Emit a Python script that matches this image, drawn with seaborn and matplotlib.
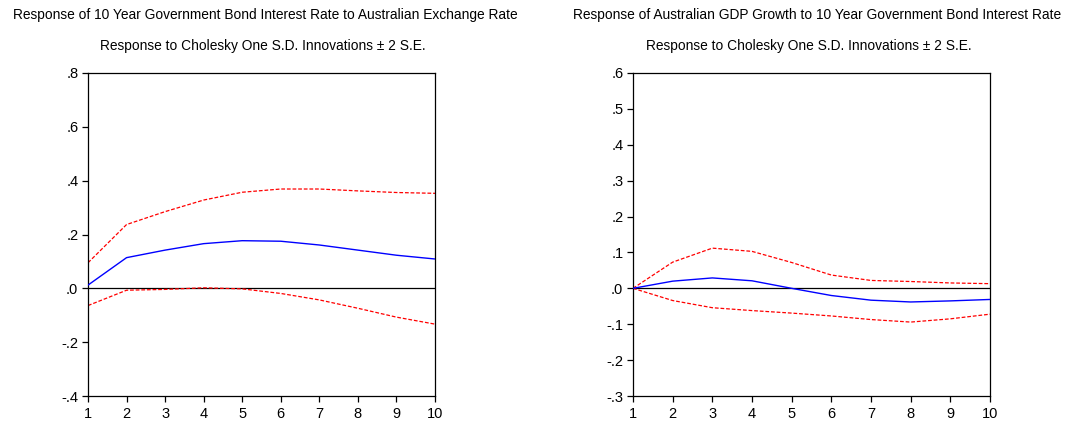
import matplotlib
matplotlib.use("Agg")
import matplotlib.pyplot as plt
import seaborn as sns
import pandas as pd
import numpy as np

periods = [1, 2, 3, 4, 5, 6, 7, 8, 9, 10]

# Left panel: response of bond rate to exchange rate
left_resp = [0.012, 0.114, 0.142, 0.166, 0.177, 0.175, 0.161, 0.142, 0.123, 0.109]
left_upper = [0.095, 0.237, 0.285, 0.328, 0.357, 0.369, 0.369, 0.362, 0.356, 0.353]
left_lower = [-0.064, -0.007, -0.004, 0.002, -0.002, -0.019, -0.043, -0.074, -0.107, -0.133]

# Right panel: response of GDP growth to bond rate
right_resp = [0.0, 0.020, 0.029, 0.021, 0.0, -0.020, -0.033, -0.038, -0.035, -0.031]
right_upper = [0.0, 0.073, 0.112, 0.103, 0.072, 0.037, 0.022, 0.019, 0.015, 0.013]
right_lower = [0.0, -0.034, -0.054, -0.062, -0.069, -0.077, -0.087, -0.094, -0.085, -0.072]

left_title = "Response of 10 Year Government Bond Interest Rate to Australian Exchange Rate"
right_title = "Response of Australian GDP Growth to 10 Year Government Bond Interest Rate"
subtitle = "Response to Cholesky One S.D. Innovations \u00b1 2 S.E."

left_yticks = [-0.4, -0.2, 0.0, 0.2, 0.4, 0.6, 0.8]
left_ylabels = ["-.4", "-.2", ".0", ".2", ".4", ".6", ".8"]
right_yticks = [-0.3, -0.2, -0.1, 0.0, 0.1, 0.2, 0.3, 0.4, 0.5, 0.6]
right_ylabels = ["-.3", "-.2", "-.1", ".0", ".1", ".2", ".3", ".4", ".5", ".6"]

sns.set_theme(style="white")
plt.rcParams['font.family'] = ['Liberation Sans Narrow', 'Liberation Sans', 'DejaVu Sans']

fig = plt.figure(figsize=(10.76, 4.25), dpi=100)
W, H = 1076, 425
ax1 = fig.add_axes([88 / W, 1 - 396 / H, (435 - 88) / W, (396 - 73) / H])
ax2 = fig.add_axes([633 / W, 1 - 396 / H, (990 - 633) / W, (396 - 73) / H])


def draw(ax, resp, upper, lower, yticks, ylabels):
    df = pd.DataFrame({"period": periods, "resp": resp, "upper": upper, "lower": lower})
    ax.axhline(0, color="black", lw=0.9, zorder=1)
    sns.lineplot(data=df, x="period", y="upper", ax=ax, color="#ff0000", lw=0.9,
                 linestyle=(0, (3, 1.5)), zorder=2)
    sns.lineplot(data=df, x="period", y="lower", ax=ax, color="#ff0000", lw=0.9,
                 linestyle=(0, (3, 1.5)), zorder=2)
    sns.lineplot(data=df, x="period", y="resp", ax=ax, color="#0000ff", lw=1.0, zorder=3)
    ax.set_xlim(1, 10)
    ax.set_ylim(yticks[0], yticks[-1])
    ax.set_xticks(periods)
    ax.set_xticklabels([str(p) for p in periods])
    ax.set_yticks(yticks)
    ax.set_yticklabels(ylabels)
    ax.set_xlabel("")
    ax.set_ylabel("")
    for s in ax.spines.values():
        s.set_color("black")
        s.set_linewidth(0.9)
    ax.tick_params(axis="both", which="major", direction="out", length=4, width=0.9,
                   color="black", labelsize=10.5, labelcolor="black")
    ax.tick_params(axis="x", bottom=True, pad=4)
    ax.tick_params(axis="y", left=True, pad=3)


draw(ax1, left_resp, left_upper, left_lower, left_yticks, left_ylabels)
draw(ax2, right_resp, right_upper, right_lower, right_yticks, right_ylabels)

fs = 9.9
fig.text(265 / W, 1 - 15 / H, left_title, ha="center", va="center", fontsize=fs, color="black")
fig.text(263 / W, 1 - 46 / H, subtitle, ha="center", va="center", fontsize=fs, color="black")
fig.text(817 / W, 1 - 15 / H, right_title, ha="center", va="center", fontsize=fs, color="black")
fig.text(809 / W, 1 - 46 / H, subtitle, ha="center", va="center", fontsize=fs, color="black")

fig.savefig("out.png", dpi=100, facecolor="white")
